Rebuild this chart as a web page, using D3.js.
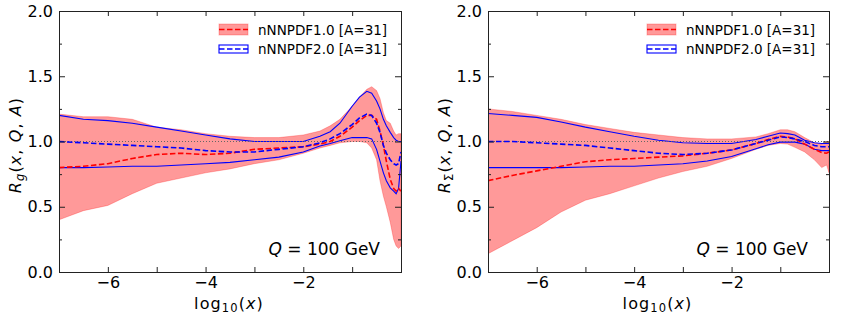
<!DOCTYPE html>
<html>
<head>
<meta charset="utf-8">
<script src="https://cdn.jsdelivr.net/npm/d3@7"></script>
<style>
  body { margin: 0; background: #fff; }
  svg text { font-family: "DejaVu Sans", sans-serif; fill: #000; }
</style>
</head>
<body>
<script>
// chart size
const c_width = 842;
const c_height = 316;

// gluon panel, log10(x) grid and ratios
const gluonX = [-7, -6.5, -6, -5.5, -5, -4.5, -4, -3.5, -3, -2.5, -2, -1.66, -1.45, -1.25, -1, -0.85, -0.7, -0.6, -0.5, -0.43, -0.36, -0.3, -0.22, -0.15, -0.1, -0.05, 0];
const gluonNN1Up  = [1.21, 1.19, 1.19, 1.17, 1.11, 1.09, 1.06, 1.04, 1.03, 1.03, 1.05, 1.08, 1.12, 1.17, 1.27, 1.34, 1.40, 1.42, 1.39, 1.33, 1.22, 1.16, 1.14, 1.08, 1.05, 1.06, 1.06];
const gluonNN1Lo  = [0.40, 0.47, 0.51, 0.60, 0.68, 0.72, 0.76, 0.79, 0.83, 0.86, 0.91, 0.95, 0.97, 0.99, 1.00, 1.00, 0.99, 0.95, 0.86, 0.70, 0.58, 0.50, 0.38, 0.25, 0.20, 0.18, 0.20];
const gluonNN1Mid = [0.80, 0.81, 0.83, 0.87, 0.90, 0.91, 0.90, 0.91, 0.94, 0.95, 0.96, 0.98, 1.00, 1.04, 1.11, 1.16, 1.20, 1.20, 1.17, 1.08, 0.97, 0.85, 0.71, 0.64, 0.62, 0.64, 0.62];
const gluonNN2Up  = [1.20, 1.17, 1.16, 1.14, 1.11, 1.08, 1.05, 1.02, 1.00, 1.00, 1.00, 1.04, 1.075, 1.14, 1.27, 1.34, 1.385, 1.37, 1.31, 1.25, 1.17, 1.12, 1.07, 1.03, 1.01, 1.00, 1.00];
const gluonNN2Lo  = [0.80, 0.80, 0.805, 0.81, 0.81, 0.82, 0.83, 0.84, 0.86, 0.88, 0.92, 0.965, 0.985, 1.006, 1.03, 1.03, 1.03, 1.02, 0.94, 0.85, 0.76, 0.70, 0.645, 0.62, 0.60, 0.64, 0.85];
const gluonNN2Mid = [1.00, 0.99, 0.98, 0.97, 0.96, 0.95, 0.93, 0.92, 0.92, 0.94, 0.96, 0.99, 1.02, 1.06, 1.13, 1.18, 1.21, 1.20, 1.14, 1.07, 0.97, 0.91, 0.86, 0.83, 0.82, 0.83, 0.92];

// singlet panel
const singletX = [-7, -6.5, -6, -5.5, -5, -4.5, -4, -3.5, -3, -2.5, -2, -1.5, -1.25, -1, -0.85, -0.7, -0.5, -0.3, -0.15, -0.05, 0];
const singletNN1Up  = [1.25, 1.23, 1.20, 1.17, 1.13, 1.10, 1.07, 1.05, 1.03, 1.02, 1.02, 1.035, 1.06, 1.09, 1.09, 1.075, 1.03, 0.99, 0.98, 1.00, 1.00];
const singletNN1Lo  = [0.14, 0.24, 0.34, 0.46, 0.55, 0.60, 0.66, 0.72, 0.77, 0.81, 0.87, 0.94, 0.97, 0.985, 0.98, 0.955, 0.92, 0.86, 0.80, 0.82, 0.76];
const singletNN1Mid = [0.70, 0.74, 0.775, 0.81, 0.845, 0.86, 0.87, 0.88, 0.89, 0.91, 0.935, 0.985, 1.015, 1.04, 1.035, 1.02, 0.98, 0.94, 0.915, 0.91, 0.92];
const singletNN2Up  = [1.215, 1.20, 1.185, 1.15, 1.11, 1.075, 1.04, 1.01, 0.99, 0.985, 0.985, 1.015, 1.04, 1.065, 1.06, 1.05, 1.01, 0.99, 0.985, 0.985, 0.985];
const singletNN2Lo  = [0.80, 0.80, 0.80, 0.80, 0.805, 0.81, 0.81, 0.82, 0.83, 0.85, 0.885, 0.945, 0.975, 0.995, 0.995, 0.995, 0.98, 0.94, 0.93, 0.93, 0.93];
const singletNN2Mid = [1.00, 1.00, 0.99, 0.98, 0.97, 0.95, 0.93, 0.91, 0.90, 0.91, 0.935, 0.985, 1.01, 1.035, 1.03, 1.02, 1.00, 0.97, 0.96, 0.96, 0.96];

// axes and labels
const xDomain = [-7, 0];
const yDomain = [0, 2];
const xTickValues = [-6, -5, -4, -3, -2, -1];
const xTickLabels = [-6, -4, -2];
const yMajorTicks = [0, 0.5, 1.0, 1.5, 2.0];
const yMinorTicks = [0.25, 0.75, 1.25, 1.75];
const legendLabels = ['nNNPDF1.0 [A=31]', 'nNNPDF2.0 [A=31]'];

const panels = [
  {id: 'g', sub: 'g', subItalic: true, x0: 59, x1: 401, labelX: 20.5,
   xs: gluonX, nn1: [gluonNN1Lo, gluonNN1Mid, gluonNN1Up], nn2: [gluonNN2Lo, gluonNN2Mid, gluonNN2Up]},
  {id: 's', sub: 'Σ', subItalic: false, x0: 488, x1: 829, labelX: 450,
   xs: singletX, nn1: [singletNN1Lo, singletNN1Mid, singletNN1Up], nn2: [singletNN2Lo, singletNN2Mid, singletNN2Up]}
];

const top_y = 11, bottom_y = 272;
const bandFill = 'rgba(255,0,0,0.4)';

const svg = d3.select('body').append('svg')
  .attr('width', c_width)
  .attr('height', c_height);

panels.forEach(p => {
  const x = d3.scaleLinear().domain(xDomain).range([p.x0, p.x1]);
  const y = d3.scaleLinear().domain(yDomain).range([bottom_y, top_y]);
  const g = svg.append('g');

  svg.append('clipPath').attr('id', 'clip-' + p.id)
    .append('rect')
    .attr('x', p.x0).attr('y', top_y)
    .attr('width', p.x1 - p.x0).attr('height', bottom_y - top_y);

  const plot = g.append('g').attr('clip-path', 'url(#clip-' + p.id + ')');
  const idx = d3.range(p.xs.length);

  // red band
  const band = d3.area()
    .x(i => x(p.xs[i]))
    .y0(i => y(p.nn1[0][i]))
    .y1(i => y(p.nn1[2][i]));
  plot.append('path')
    .attr('d', band(idx))
    .attr('fill', bandFill)
    .attr('stroke', 'rgba(255,0,0,0.25)')
    .attr('stroke-width', 1);

  const line = arr => d3.line().x(i => x(p.xs[i])).y(i => y(arr[i]))(idx);

  // blue bounds
  [p.nn2[0], p.nn2[2]].forEach(arr => {
    plot.append('path').attr('d', line(arr))
      .attr('fill', 'none').attr('stroke', '#0000ff').attr('stroke-width', 1.1);
  });

  // dotted unity line
  plot.append('line')
    .attr('x1', p.x0).attr('x2', p.x1)
    .attr('y1', y(1)).attr('y2', y(1))
    .attr('stroke', '#666').attr('stroke-width', 1)
    .attr('stroke-dasharray', '1,2');

  // central values
  plot.append('path').attr('d', line(p.nn1[1]))
    .attr('fill', 'none').attr('stroke', '#ff0000').attr('stroke-width', 1.6)
    .attr('stroke-dasharray', '5.5,2.5');
  plot.append('path').attr('d', line(p.nn2[1]))
    .attr('fill', 'none').attr('stroke', '#0000ff').attr('stroke-width', 1.6)
    .attr('stroke-dasharray', '5.5,2.5');

  // axes, ticks pointing inward
  const fontPx = 16;
  const bottomAxis = d3.axisBottom(x).tickValues(xTickValues).tickSize(-5).tickPadding(5)
    .tickFormat(d => xTickLabels.includes(d) ? d3.format('')(d) : '');
  const topAxis = d3.axisTop(x).tickValues(xTickValues).tickSize(-5).tickFormat('');
  const leftMajor = d3.axisLeft(y).tickValues(yMajorTicks).tickSize(-6).tickPadding(6)
    .tickFormat(d3.format('.1f'));
  const leftMinor = d3.axisLeft(y).tickValues(yMinorTicks).tickSize(-3).tickFormat('');
  const rightMajor = d3.axisRight(y).tickValues(yMajorTicks).tickSize(-6).tickFormat('');
  const rightMinor = d3.axisRight(y).tickValues(yMinorTicks).tickSize(-3).tickFormat('');

  const axes = [
    [bottomAxis, 'translate(0,' + bottom_y + ')'],
    [topAxis, 'translate(0,' + top_y + ')'],
    [leftMajor, 'translate(' + p.x0 + ',0)'],
    [leftMinor, 'translate(' + p.x0 + ',0)'],
    [rightMajor, 'translate(' + p.x1 + ',0)'],
    [rightMinor, 'translate(' + p.x1 + ',0)']
  ];
  axes.forEach(([ax, tr]) => {
    const a = g.append('g').attr('transform', tr).call(ax);
    a.selectAll('.domain').attr('stroke', '#222').attr('stroke-width', 1);
    a.selectAll('.tick line').attr('stroke', '#222').attr('stroke-width', 1);
    a.selectAll('text')
      .style('font-family', '"DejaVu Sans", sans-serif')
      .style('font-size', fontPx + 'px')
      .attr('fill', '#000');
  });

  // y label
  const yl = g.append('text')
    .attr('transform', 'translate(' + p.labelX + ',' + 145 + ') rotate(-90)')
    .attr('text-anchor', 'middle')
    .style('font-size', '16px')
    .style('letter-spacing', '1.1px');
  yl.append('tspan').attr('font-style', 'italic').text('R');
  yl.append('tspan').attr('font-style', p.subItalic ? 'italic' : 'normal')
    .attr('baseline-shift', '-3').style('font-size', '11.5px').text(p.sub);
  yl.append('tspan').text('(');
  yl.append('tspan').attr('font-style', 'italic').text('x');
  yl.append('tspan').text(', ');
  yl.append('tspan').attr('font-style', 'italic').text('Q');
  yl.append('tspan').text(', ');
  yl.append('tspan').attr('font-style', 'italic').text('A');
  yl.append('tspan').text(')');

  // x label
  const xl = g.append('text')
    .attr('x', (p.x0 + p.x1) / 2 - 1).attr('y', 309)
    .attr('text-anchor', 'middle')
    .style('font-size', '16px')
    .style('letter-spacing', '1.1px');
  xl.append('tspan').text('log');
  xl.append('tspan').attr('baseline-shift', '-3').style('font-size', '11.5px').text('10');
  xl.append('tspan').text('(');
  xl.append('tspan').attr('font-style', 'italic').text('x');
  xl.append('tspan').text(')');

  // Q annotation
  const q = g.append('text')
    .attr('x', p.x1 - 21).attr('y', 255)
    .attr('text-anchor', 'end')
    .style('font-size', '17px');
  q.append('tspan').attr('font-style', 'italic').text('Q');
  q.append('tspan').text(' = 100 GeV');

  // legend
  const lx = p.x1 - 182;
  const leg = g.append('g');
  leg.append('rect').attr('x', lx).attr('y', 24).attr('width', 29).attr('height', 11)
    .attr('fill', bandFill).attr('stroke', 'rgba(255,0,0,0.25)');
  leg.append('line').attr('x1', lx).attr('x2', lx + 29).attr('y1', 29.5).attr('y2', 29.5)
    .attr('stroke', '#ff0000').attr('stroke-width', 1.6).attr('stroke-dasharray', '5.5,2.5');
  leg.append('rect').attr('x', lx).attr('y', 45).attr('width', 29).attr('height', 8)
    .attr('fill', '#fff').attr('stroke', '#0000ff').attr('stroke-width', 1.1);
  leg.append('line').attr('x1', lx).attr('x2', lx + 29).attr('y1', 49).attr('y2', 49)
    .attr('stroke', '#0000ff').attr('stroke-width', 1.6).attr('stroke-dasharray', '5.5,2.5');
  legendLabels.forEach((t, i) => {
    leg.append('text')
      .attr('x', lx + 39).attr('y', i === 0 ? 34.5 : 54)
      .style('font-size', '13.5px')
      .text(t);
  });
});
</script>
</body>
</html>
